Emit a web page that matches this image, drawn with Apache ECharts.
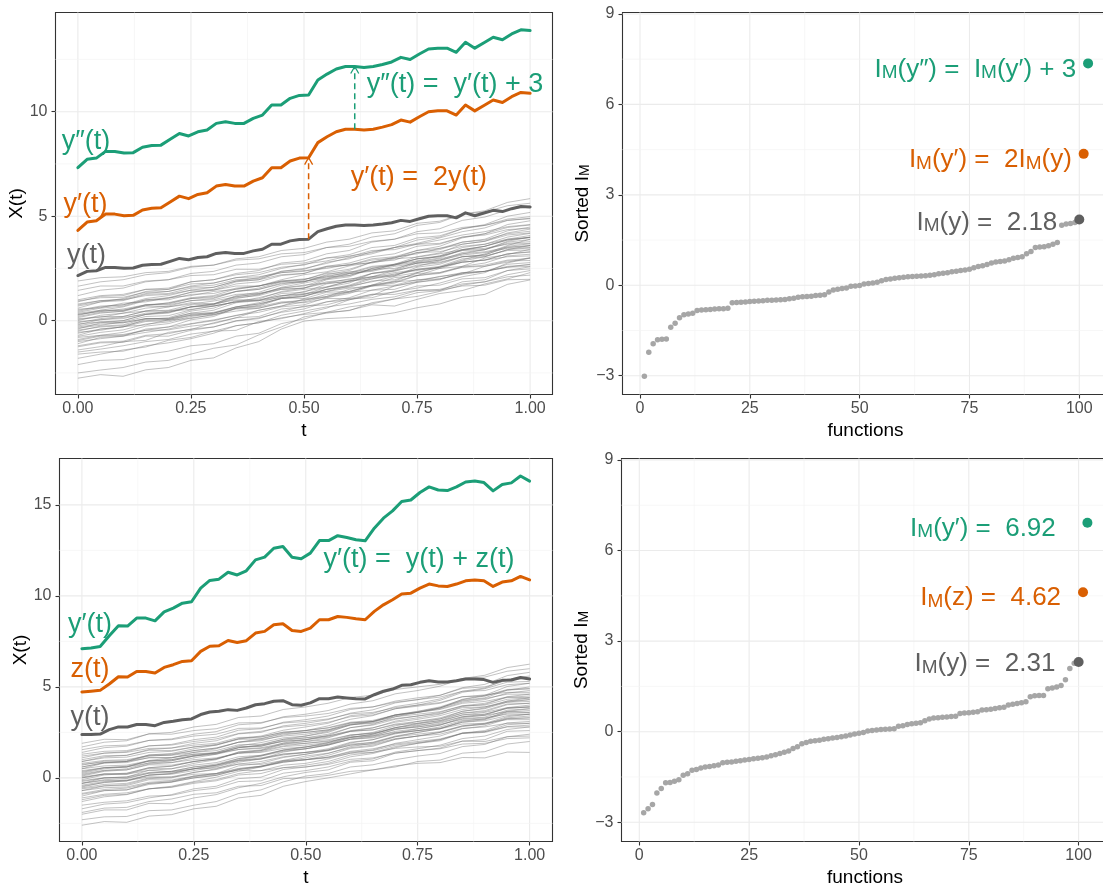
<!DOCTYPE html>
<html>
<head>
<meta charset="utf-8">
<script src="https://cdn.jsdelivr.net/npm/echarts@6/dist/echarts.min.js"></script>
<style>
  html, body { margin: 0; padding: 0; background: #ffffff; }
  #chart { width: 1103px; height: 886px; }
</style>
</head>
<body>
<div id="chart"></div>
<script>
// ---------- data ----------
// time grid of the highlighted functions
const tGrid = [0,0.0204,0.0408,0.0612,0.0816,0.102,0.1224,0.1429,0.1633,0.1837,0.2041,0.2245,0.2449,0.2653,0.2857,0.3061,0.3265,0.3469,0.3673,0.3878,0.4082,0.4286,0.449,0.4694,0.4898,0.5102,0.5306,0.551,0.5714,0.5918,0.6122,0.6327,0.6531,0.6735,0.6939,0.7143,0.7347,0.7551,0.7755,0.7959,0.8163,0.8367,0.8571,0.8776,0.898,0.9184,0.9388,0.9592,0.9796,1];

// top row: y(t); y'(t) = 2y(t); y''(t) = y'(t) + 3
const yTop = [2.16,2.36,2.39,2.55,2.55,2.51,2.52,2.65,2.69,2.70,2.84,2.98,2.92,3.02,3.06,3.22,3.26,3.22,3.22,3.34,3.42,3.66,3.66,3.82,3.89,3.90,4.26,4.40,4.52,4.58,4.58,4.56,4.58,4.63,4.69,4.80,4.75,4.88,5.00,5.02,5.02,4.92,5.16,5.02,5.15,5.28,5.22,5.36,5.46,5.44];

// bottom row: y(t), z(t); y'(t) = y(t) + z(t)
const yBot = [2.38,2.38,2.41,2.65,2.80,2.80,2.93,2.93,2.87,3.05,3.11,3.20,3.24,3.48,3.62,3.66,3.75,3.71,3.84,4.02,4.08,4.21,4.24,4.02,3.99,4.12,4.35,4.35,4.44,4.39,4.35,4.34,4.57,4.76,4.88,5.09,5.12,5.25,5.34,5.27,5.27,5.34,5.43,5.43,5.40,5.25,5.36,5.38,5.52,5.43];
const zBot = [4.72,4.76,4.81,5.16,5.56,5.54,5.85,5.85,5.76,6.07,6.22,6.40,6.44,6.95,7.23,7.26,7.55,7.44,7.54,7.96,8.05,8.41,8.47,8.10,8.05,8.23,8.69,8.69,8.87,8.82,8.74,8.69,9.15,9.51,9.79,10.10,10.15,10.43,10.65,10.55,10.52,10.65,10.83,10.88,10.83,10.52,10.76,10.83,11.07,10.88];

// time grid of the background sample
const tGray = [0,0.05,0.1,0.15,0.2,0.25,0.3,0.35,0.4,0.45,0.5,0.55,0.6,0.65,0.7,0.75,0.8,0.85,0.9,0.95,1];

// background sample, top row
const grayTop = [
  [-2.75,-2.58,-2.66,-2.35,-2.24,-1.90,-1.78,-1.30,-1.00,-0.40,-0.02,0.10,0.15,0.22,0.38,0.62,0.80,1.12,1.26,1.74,1.95],
  [-2.50,-2.36,-2.24,-1.98,-1.90,-1.60,-1.32,-1.16,-0.68,-0.30,0.18,0.36,0.50,0.76,0.70,1.02,1.30,1.44,1.76,2.00,2.30],
  [-2.10,-1.90,-1.86,-1.62,-1.46,-1.20,-1.10,-0.74,-0.60,-0.14,0.08,0.40,0.48,0.86,1.04,1.34,1.44,1.86,1.96,2.40,2.58],
  [-1.80,-1.60,-1.40,-1.26,-0.94,-0.80,-0.50,-0.46,-0.04,0.10,0.34,0.60,1.00,1.20,1.66,1.88,2.12,2.24,2.60,2.80,3.02],
  [-1.60,-1.50,-1.46,-1.20,-1.06,-0.86,-0.60,-0.24,-0.10,0.26,0.46,0.66,0.80,1.02,1.14,1.44,1.50,1.76,1.86,2.10,2.18],
  [-1.40,-1.24,-1.00,-0.94,-0.56,-0.42,-0.10,0.14,0.50,0.70,1.04,1.16,1.50,1.70,2.06,2.16,2.50,2.60,3.00,3.16,3.42],
  [-1.25,-1.06,-1.04,-0.74,-0.74,-0.46,-0.30,0.00,0.14,0.40,0.56,0.90,1.10,1.46,1.50,1.84,1.96,2.30,2.36,2.70,2.78],
  [-1.10,-0.80,-0.74,-0.40,-0.30,0.04,0.20,0.60,0.74,1.10,1.26,1.60,1.80,2.26,2.44,2.84,3.00,3.40,3.56,3.90,4.08],
  [-1.00,-0.86,-0.74,-0.56,-0.40,-0.16,0.00,0.26,0.40,0.66,0.76,1.10,1.30,1.66,1.80,2.16,2.30,2.60,2.76,3.10,3.18],
  [-0.90,-0.70,-0.56,-0.26,-0.14,0.14,0.26,0.60,0.70,1.06,1.16,1.50,1.70,2.06,2.14,2.56,2.70,3.06,3.14,3.56,3.68],
  [-0.80,-0.70,-0.66,-0.46,-0.44,-0.26,-0.14,0.14,0.20,0.56,0.66,0.90,1.00,1.26,1.36,1.66,1.70,2.00,2.06,2.40,2.48],
  [-0.70,-0.40,-0.30,0.06,0.14,0.46,0.60,0.96,1.04,1.40,1.56,1.96,2.10,2.50,2.70,3.06,3.24,3.66,3.80,4.20,4.38],
  [-0.60,-0.40,-0.30,-0.04,0.00,0.26,0.36,0.66,0.80,1.06,1.16,1.50,1.66,2.00,2.16,2.46,2.60,2.96,3.06,3.40,3.48],
  [-0.50,-0.26,-0.20,0.10,0.10,0.36,0.50,0.86,0.96,1.30,1.36,1.76,1.90,2.26,2.40,2.76,2.90,3.26,3.40,3.76,3.88],
  [-0.40,-0.10,0.00,0.30,0.36,0.66,0.80,1.20,1.36,1.70,1.86,2.20,2.40,2.80,3.00,3.36,3.56,3.96,4.16,4.60,4.78],
  [-0.30,-0.16,-0.10,0.10,0.10,0.36,0.36,0.60,0.66,0.90,0.96,1.26,1.36,1.70,1.86,2.16,2.26,2.56,2.66,2.90,2.98],
  [-0.20,0.06,0.10,0.36,0.40,0.66,0.80,1.16,1.26,1.56,1.66,2.00,2.16,2.50,2.66,2.96,3.10,3.50,3.66,4.00,4.18],
  [-0.10,0.10,0.20,0.46,0.50,0.76,0.80,1.10,1.20,1.50,1.56,1.86,1.96,2.26,2.36,2.66,2.76,3.06,3.16,3.50,3.58],
  [0.00,0.26,0.36,0.60,0.70,0.96,1.06,1.40,1.56,1.86,1.96,2.30,2.46,2.80,2.90,3.26,3.40,3.76,3.90,4.30,4.48],
  [0.05,0.20,0.20,0.46,0.46,0.66,0.70,0.90,0.96,1.20,1.26,1.50,1.60,1.90,1.96,2.26,2.30,2.56,2.60,2.86,2.88],
  [0.15,0.36,0.46,0.76,0.80,1.06,1.10,1.40,1.50,1.80,1.86,2.16,2.26,2.56,2.66,2.96,3.06,3.40,3.56,3.86,3.98],
  [0.25,0.50,0.66,0.96,1.06,1.36,1.50,1.86,1.96,2.36,2.46,2.80,2.96,3.30,3.50,3.86,4.00,4.40,4.60,5.00,5.18],
  [0.30,0.46,0.50,0.76,0.76,0.96,1.00,1.26,1.30,1.50,1.56,1.80,1.86,2.10,2.20,2.46,2.50,2.80,2.90,3.20,3.28],
  [0.40,0.60,0.70,1.00,1.10,1.36,1.46,1.76,1.86,2.16,2.26,2.60,2.76,3.06,3.20,3.56,3.66,4.00,4.16,4.46,4.58],
  [0.50,0.70,0.76,1.00,1.00,1.26,1.30,1.56,1.66,1.90,1.96,2.26,2.30,2.60,2.70,2.96,3.06,3.36,3.40,3.70,3.78],
  [0.60,0.90,1.06,1.40,1.50,1.86,1.96,2.26,2.40,2.76,2.86,3.20,3.36,3.76,3.90,4.26,4.40,4.80,4.96,5.30,5.48],
  [0.70,0.90,0.96,1.26,1.30,1.56,1.60,1.90,1.96,2.20,2.26,2.56,2.66,2.96,3.06,3.36,3.46,3.76,3.86,4.16,4.28],
  [0.80,0.96,1.00,1.20,1.26,1.46,1.46,1.66,1.66,1.86,1.86,2.10,2.16,2.46,2.50,2.76,2.80,3.06,3.10,3.36,3.38],
  [0.90,1.16,1.20,1.50,1.56,1.86,1.96,2.20,2.30,2.56,2.66,3.00,3.16,3.50,3.60,3.96,4.06,4.40,4.56,4.86,4.98],
  [1.00,1.20,1.26,1.50,1.50,1.76,1.80,2.06,2.10,2.30,2.36,2.60,2.66,2.90,3.00,3.26,3.30,3.56,3.66,3.90,3.98],
  [1.20,1.46,1.56,1.86,1.96,2.26,2.36,2.66,2.76,3.06,3.16,3.50,3.66,4.00,4.16,4.56,4.70,5.10,5.26,5.66,5.84],
  [1.45,1.66,1.66,1.90,1.96,2.16,2.20,2.46,2.46,2.70,2.76,3.00,3.06,3.36,3.40,3.66,3.70,4.00,4.10,4.36,4.42],
  [1.65,1.86,1.96,2.20,2.30,2.56,2.66,2.96,3.06,3.36,3.46,3.76,3.90,4.20,4.30,4.66,4.76,5.10,5.20,5.50,5.62],
  [1.90,2.06,2.10,2.30,2.36,2.60,2.66,2.90,2.96,3.20,3.26,3.50,3.56,3.80,3.90,4.16,4.20,4.46,4.56,4.80,4.88],
  [0.35,0.50,0.50,0.70,0.66,0.86,0.80,1.00,0.96,1.10,1.06,1.36,1.40,1.66,1.70,1.96,2.00,2.26,2.36,2.60,2.68],
  [-0.15,-0.06,-0.10,0.10,0.06,0.26,0.30,0.56,0.60,0.86,0.86,1.06,1.06,1.26,1.26,1.46,1.46,1.66,1.70,1.96,1.98],
  [-1.20,-1.02,-0.98,-0.70,-0.62,-0.40,-0.30,-0.02,0.10,0.44,0.70,0.76,1.04,1.10,1.40,1.56,1.80,2.10,2.30,2.76,3.00],
  [-0.35,-0.22,-0.06,0.20,0.24,0.52,0.70,0.90,1.10,1.36,1.50,1.62,1.90,2.00,2.24,2.40,2.56,2.80,2.90,3.20,3.30],
  [0.20,0.40,0.44,0.72,0.86,1.10,1.20,1.52,1.66,1.96,2.20,2.34,2.62,2.80,3.04,3.20,3.46,3.66,3.80,4.10,4.20],
  [-0.55,-0.46,-0.28,-0.20,0.04,0.10,0.30,0.46,0.60,0.84,1.00,1.12,1.36,1.46,1.66,1.84,2.00,2.22,2.36,2.56,2.70],
  [0.55,0.62,0.84,0.90,1.10,1.20,1.40,1.50,1.66,1.90,2.00,2.10,2.34,2.42,2.66,2.80,2.96,3.20,3.30,3.52,3.60],
  [-0.95,-0.74,-0.70,-0.46,-0.30,-0.14,0.04,0.24,0.50,0.70,0.90,1.16,1.40,1.70,1.90,2.30,2.56,2.90,3.20,3.60,3.90],
  [0.10,0.16,0.36,0.46,0.66,0.80,0.94,1.14,1.30,1.56,1.70,1.80,2.00,2.10,2.30,2.44,2.56,2.80,2.90,3.06,3.10],
  [-0.25,-0.06,0.00,0.30,0.40,0.66,0.76,1.06,1.24,1.60,1.80,2.00,2.24,2.40,2.70,2.86,3.10,3.36,3.56,3.86,4.00],
  [0.95,1.10,1.12,1.36,1.40,1.62,1.70,1.96,2.02,2.30,2.40,2.50,2.70,2.76,2.96,3.04,3.20,3.40,3.46,3.66,3.70],
  [-1.50,-1.36,-1.20,-1.00,-0.90,-0.64,-0.50,-0.24,-0.10,0.14,0.30,0.40,0.66,0.80,1.04,1.16,1.40,1.70,1.86,2.20,2.40],
  [0.45,0.66,0.76,1.06,1.20,1.46,1.60,1.90,2.06,2.36,2.50,2.74,3.02,3.20,3.50,3.70,3.96,4.26,4.44,4.80,4.90],
  [-0.05,0.04,0.16,0.30,0.46,0.54,0.70,0.90,1.00,1.20,1.30,1.40,1.56,1.66,1.86,1.94,2.10,2.30,2.36,2.56,2.60],
  [0.75,0.96,1.02,1.30,1.40,1.66,1.80,2.06,2.20,2.50,2.70,2.86,3.10,3.26,3.50,3.66,3.86,4.10,4.26,4.50,4.60],
  [-0.45,-0.30,-0.24,0.00,0.06,0.30,0.40,0.66,0.80,1.06,1.20,1.40,1.66,1.86,2.12,2.30,2.56,2.86,3.06,3.40,3.60],
  [0.30,0.44,0.56,0.76,0.84,1.06,1.16,1.40,1.50,1.76,1.90,2.04,2.26,2.36,2.60,2.74,2.90,3.14,3.26,3.46,3.50],
  [-0.75,-0.56,-0.44,-0.16,-0.06,0.20,0.36,0.66,0.86,1.16,1.40,1.60,1.90,2.10,2.40,2.60,2.86,3.20,3.40,3.80,4.00]
];

// background sample, bottom row
const grayBot = [
  [-2.60,-2.40,-2.44,-2.10,-2.02,-1.70,-1.56,-1.10,-0.96,-0.46,-0.20,0.00,0.22,0.44,0.60,0.90,0.98,1.36,1.44,1.86,2.00],
  [-2.30,-2.14,-2.12,-1.80,-1.76,-1.50,-1.30,-0.86,-0.66,-0.22,0.10,0.24,0.60,0.72,1.00,1.20,1.34,1.72,1.84,2.26,2.40],
  [-2.00,-1.76,-1.76,-1.40,-1.42,-1.10,-0.92,-0.54,-0.30,0.06,0.30,0.44,0.86,0.94,1.36,1.50,1.64,2.02,2.10,2.56,2.60],
  [-1.90,-1.66,-1.62,-1.30,-1.16,-0.90,-0.82,-0.46,-0.42,-0.04,0.00,0.14,0.36,0.44,0.66,0.80,0.84,1.12,1.10,1.42,1.40],
  [-1.70,-1.44,-1.36,-1.10,-0.92,-0.60,-0.46,-0.04,0.04,0.46,0.60,0.80,1.16,1.34,1.66,1.90,2.04,2.46,2.60,3.02,3.10],
  [-1.50,-1.34,-1.26,-1.00,-0.96,-0.70,-0.56,-0.20,-0.16,0.26,0.40,0.60,0.92,1.04,1.42,1.60,1.80,2.16,2.30,2.66,2.80],
  [-1.30,-1.04,-0.92,-0.60,-0.46,-0.20,0.04,0.36,0.60,0.92,1.10,1.34,1.72,1.90,2.26,2.50,2.70,3.12,3.24,3.66,3.80],
  [-1.10,-0.90,-0.82,-0.60,-0.52,-0.30,-0.16,0.16,0.24,0.56,0.70,0.90,1.26,1.40,1.72,1.90,2.10,2.46,2.54,2.92,3.00],
  [-1.00,-0.70,-0.66,-0.30,-0.22,0.10,0.24,0.66,0.80,1.12,1.30,1.54,1.92,2.10,2.46,2.70,2.90,3.32,3.44,3.86,4.00],
  [-0.85,-0.64,-0.56,-0.30,-0.22,0.00,0.14,0.46,0.60,0.86,1.00,1.24,1.62,1.74,2.12,2.30,2.50,2.86,3.00,3.36,3.50],
  [-0.70,-0.44,-0.36,-0.04,0.00,0.30,0.50,0.86,1.04,1.42,1.60,1.84,2.22,2.40,2.76,3.00,3.24,3.66,3.84,4.22,4.40],
  [-0.60,-0.44,-0.42,-0.10,-0.12,0.10,0.24,0.52,0.64,0.86,1.00,1.14,1.46,1.60,1.86,2.00,2.14,2.46,2.54,2.82,2.90],
  [-0.50,-0.24,-0.16,0.16,0.24,0.50,0.70,1.06,1.20,1.52,1.70,1.94,2.32,2.50,2.86,3.10,3.30,3.66,3.80,4.16,4.30],
  [-0.40,-0.20,-0.12,0.16,0.20,0.40,0.60,0.92,1.04,1.26,1.40,1.60,1.96,2.10,2.42,2.60,2.80,3.16,3.24,3.62,3.70],
  [-0.30,0.00,0.04,0.42,0.50,0.80,1.00,1.42,1.54,1.92,2.10,2.34,2.76,2.94,3.36,3.60,3.84,4.26,4.40,4.82,5.00],
  [-0.20,0.00,0.00,0.26,0.30,0.50,0.64,0.96,1.04,1.32,1.40,1.54,1.86,1.94,2.26,2.40,2.54,2.86,2.94,3.26,3.30],
  [-0.10,0.16,0.24,0.56,0.64,0.90,1.04,1.42,1.50,1.86,2.00,2.20,2.56,2.74,3.12,3.30,3.50,3.92,4.04,4.46,4.60],
  [0.00,0.22,0.20,0.52,0.50,0.70,0.84,1.16,1.24,1.52,1.60,1.80,2.12,2.24,2.56,2.70,2.90,3.26,3.34,3.72,3.80],
  [0.10,0.36,0.44,0.76,0.84,1.10,1.30,1.66,1.80,2.12,2.30,2.50,2.92,3.04,3.42,3.60,3.84,4.32,4.54,5.02,5.20],
  [0.20,0.42,0.44,0.72,0.70,0.90,1.04,1.36,1.44,1.72,1.80,1.94,2.26,2.34,2.66,2.80,3.00,3.36,3.50,3.82,3.90],
  [0.30,0.56,0.60,0.92,0.94,1.20,1.34,1.66,1.74,2.06,2.20,2.40,2.76,2.90,3.22,3.40,3.60,3.96,4.10,4.42,4.50],
  [0.40,0.56,0.60,0.82,0.84,1.00,1.10,1.36,1.40,1.62,1.70,1.84,2.12,2.20,2.46,2.60,2.74,3.06,3.14,3.42,3.50],
  [0.50,0.82,0.90,1.26,1.34,1.60,1.80,2.16,2.30,2.62,2.80,3.00,3.42,3.54,3.92,4.10,4.34,4.76,4.94,5.42,5.60],
  [0.60,0.82,0.84,1.12,1.10,1.30,1.40,1.72,1.74,2.02,2.10,2.24,2.56,2.64,2.96,3.10,3.24,3.56,3.64,4.02,4.10],
  [0.70,0.92,0.94,1.26,1.30,1.50,1.64,1.96,2.04,2.36,2.50,2.64,3.02,3.10,3.46,3.60,3.80,4.16,4.30,4.66,4.80],
  [0.80,0.96,1.00,1.22,1.24,1.40,1.50,1.82,1.84,2.12,2.20,2.30,2.56,2.64,2.92,3.00,3.14,3.46,3.50,3.82,3.90],
  [0.90,1.16,1.24,1.56,1.64,1.90,2.04,2.42,2.50,2.86,3.00,3.20,3.56,3.74,4.12,4.30,4.54,4.96,5.14,5.62,5.80],
  [1.00,1.22,1.24,1.52,1.50,1.70,1.80,2.12,2.14,2.42,2.50,2.64,2.92,3.00,3.26,3.40,3.54,3.86,3.90,4.22,4.30],
  [1.10,1.36,1.44,1.76,1.84,2.10,2.24,2.62,2.70,3.06,3.20,3.40,3.76,3.90,4.22,4.40,4.54,4.92,5.00,5.36,5.50],
  [1.20,1.36,1.40,1.62,1.64,1.80,1.90,2.22,2.24,2.52,2.60,2.74,3.02,3.10,3.36,3.50,3.64,3.96,4.00,4.32,4.40],
  [1.40,1.66,1.74,2.06,2.14,2.40,2.54,2.92,3.00,3.36,3.50,3.70,4.06,4.24,4.62,4.80,5.04,5.46,5.64,6.06,6.25],
  [1.55,1.76,1.80,2.06,2.10,2.30,2.40,2.72,2.74,3.02,3.10,3.24,3.52,3.60,3.86,4.00,4.14,4.46,4.50,4.82,4.90],
  [1.70,1.96,2.04,2.42,2.50,2.80,2.94,3.32,3.40,3.76,3.90,4.10,4.42,4.54,4.86,5.00,5.14,5.46,5.54,5.86,6.00],
  [1.90,2.12,2.10,2.42,2.40,2.60,2.70,3.02,3.04,3.32,3.40,3.54,3.82,3.90,4.16,4.30,4.44,4.76,4.80,5.12,5.20],
  [0.05,0.22,0.20,0.42,0.34,0.50,0.54,0.76,0.74,0.96,1.00,1.10,1.36,1.40,1.62,1.70,1.74,2.02,2.00,2.26,2.30],
  [-0.30,-0.14,-0.16,0.06,0.04,0.20,0.24,0.42,0.40,0.56,0.60,0.74,1.02,1.10,1.36,1.50,1.60,1.86,1.90,2.16,2.20],
  [-0.90,-0.70,-0.66,-0.36,-0.24,0.00,0.14,0.46,0.64,0.96,1.20,1.36,1.66,1.80,2.12,2.30,2.50,2.82,2.96,3.30,3.40],
  [0.35,0.56,0.64,0.92,1.00,1.24,1.36,1.66,1.80,2.00,2.10,2.30,2.60,2.76,3.06,3.22,3.42,3.76,3.90,4.16,4.20],
  [-0.45,-0.26,-0.16,0.14,0.24,0.50,0.70,1.00,1.20,1.46,1.60,1.80,2.14,2.30,2.66,2.86,3.10,3.46,3.60,3.86,3.90],
  [0.60,0.84,0.90,1.20,1.26,1.50,1.64,1.96,2.10,2.30,2.40,2.60,2.96,3.10,3.46,3.64,3.86,4.22,4.36,4.60,4.60],
  [0.00,0.20,0.26,0.56,0.64,0.90,1.06,1.36,1.50,1.76,1.90,2.04,2.36,2.46,2.76,2.90,3.06,3.36,3.44,3.64,3.60],
  [-0.70,-0.54,-0.50,-0.24,-0.16,0.06,0.20,0.50,0.64,0.90,1.00,1.14,1.42,1.50,1.80,1.94,2.10,2.44,2.50,2.80,2.80],
  [0.90,1.10,1.14,1.40,1.46,1.70,1.84,2.14,2.26,2.50,2.60,2.76,3.06,3.16,3.46,3.60,3.76,4.10,4.20,4.44,4.40],
  [0.15,0.40,0.50,0.82,0.94,1.20,1.40,1.76,1.94,2.20,2.30,2.56,2.90,3.10,3.46,3.66,3.90,4.30,4.50,4.86,4.90],
  [-0.15,0.00,0.06,0.30,0.36,0.60,0.70,0.96,1.10,1.30,1.40,1.50,1.80,1.86,2.16,2.30,2.40,2.72,2.80,3.00,3.00],
  [0.50,0.66,0.70,0.94,1.00,1.20,1.30,1.56,1.66,1.90,2.00,2.10,2.36,2.44,2.70,2.80,2.94,3.22,3.30,3.50,3.50],
  [-1.20,-0.96,-0.90,-0.60,-0.50,-0.24,-0.10,0.24,0.40,0.70,0.80,1.04,1.36,1.54,1.90,2.10,2.30,2.70,2.86,3.24,3.30],
  [0.25,0.50,0.60,0.96,1.10,1.40,1.60,1.96,2.16,2.46,2.60,2.86,3.22,3.42,3.80,4.00,4.26,4.70,4.90,5.26,5.30],
  [0.75,0.86,0.90,1.10,1.12,1.30,1.36,1.56,1.62,1.84,1.90,2.00,2.22,2.30,2.50,2.60,2.70,2.96,3.00,3.20,3.20],
  [-0.55,-0.36,-0.30,0.00,0.06,0.30,0.46,0.76,0.90,1.16,1.30,1.50,1.80,1.96,2.30,2.50,2.70,3.06,3.20,3.56,3.60],
  [1.30,1.46,1.50,1.76,1.80,2.00,2.14,2.44,2.56,2.80,2.90,3.06,3.36,3.46,3.80,3.94,4.10,4.46,4.56,4.70,4.70],
  [-0.30,-0.10,-0.04,0.26,0.36,0.60,0.76,1.06,1.24,1.54,1.70,1.90,2.22,2.40,2.76,2.96,3.16,3.56,3.70,4.06,4.10]
];

// sorted I_M of the background sample (top row), and I_M(y)
const imTop = [-3.02,-2.22,-1.94,-1.81,-1.79,-1.78,-1.39,-1.26,-1.08,-0.98,
  -0.95,-0.93,-0.84,-0.82,-0.81,-0.80,-0.79,-0.78,-0.78,-0.76,
  -0.58,-0.57,-0.56,-0.55,-0.54,-0.53,-0.52,-0.51,-0.50,-0.50,
  -0.49,-0.48,-0.47,-0.45,-0.43,-0.40,-0.38,-0.37,-0.36,-0.34,
  -0.33,-0.31,-0.22,-0.16,-0.13,-0.11,-0.09,-0.03,-0.02,-0.01,
  0.04,0.06,0.08,0.10,0.15,0.19,0.21,0.23,0.25,0.27,
  0.28,0.29,0.30,0.31,0.32,0.33,0.35,0.38,0.40,0.42,
  0.45,0.47,0.49,0.51,0.53,0.58,0.62,0.65,0.69,0.74,
  0.77,0.79,0.81,0.85,0.90,0.92,0.95,1.05,1.12,1.25,
  1.27,1.28,1.31,1.36,1.42,1.99,2.03,2.05,2.08];
const imTopY = 2.18;

// sorted I_M of the background sample (bottom row) and the highlighted values
const imBot = [-2.68,-2.55,-2.41,-2.03,-1.88,-1.69,-1.68,-1.64,-1.59,-1.44,
  -1.39,-1.28,-1.25,-1.20,-1.17,-1.15,-1.13,-1.10,-1.03,-1.01,
  -1.00,-0.98,-0.96,-0.94,-0.92,-0.90,-0.88,-0.86,-0.84,-0.80,
  -0.76,-0.72,-0.68,-0.64,-0.56,-0.50,-0.40,-0.36,-0.32,-0.30,
  -0.28,-0.25,-0.23,-0.21,-0.19,-0.17,-0.14,-0.11,-0.08,-0.05,
  -0.03,0.02,0.04,0.06,0.07,0.08,0.09,0.10,0.18,0.20,
  0.24,0.26,0.28,0.30,0.36,0.42,0.45,0.46,0.48,0.49,
  0.50,0.51,0.60,0.62,0.63,0.64,0.66,0.72,0.73,0.74,
  0.77,0.79,0.81,0.88,0.91,0.93,0.96,0.99,1.16,1.19,
  1.20,1.20,1.42,1.45,1.48,1.53,1.72,2.09,2.27];
const imBotY = 2.31;
const imBotZ = 4.62;
const imBotYp = 6.92;

// function index used for the highlighted points: y, y' (or z), y'' (or y')
const hlIndex = [100, 101, 102];

// axis breaks
const tTicks = [0, 0.25, 0.5, 0.75, 1];
const tTickLabels = ['0.00', '0.25', '0.50', '0.75', '1.00'];
const tMinor = [0.125, 0.375, 0.625, 0.875];
const xTopTicks = [0, 5, 10];
const xTopTickLabels = ['0', '5', '10'];
const xTopMinor = [-2.5, 2.5, 7.5, 12.5];
const xBotTicks = [0, 5, 10, 15];
const xBotTickLabels = ['0', '5', '10', '15'];
const xBotMinor = [-2.5, 2.5, 7.5, 12.5];
const fTicks = [0, 25, 50, 75, 100];
const fTickLabels = ['0', '25', '50', '75', '100'];
const fMinor = [12.5, 37.5, 62.5, 87.5];
const imTicks = [-3, 0, 3, 6, 9];
const imTickLabels = ['\u22123', '0', '3', '6', '9'];
const imMinor = [-1.5, 1.5, 4.5, 7.5];

// ---------- derived series ----------
const yPrimeTop = yTop.map(v => 2 * v);          // y'(t) = 2 y(t)
const yDPrimeTop = yPrimeTop.map(v => v + 3);     // y''(t) = y'(t) + 3
const ySumBot = yBot.map((v, i) => v + zBot[i]);  // y'(t) = y(t) + z(t)
const imTopYp = 2 * imTopY;                       // I_M(y') = 2 I_M(y)
const imTopYpp = imTopYp + 3;                     // I_M(y'') = I_M(y') + 3

// ---------- style ----------
const GREEN = '#1B9E77';
const ORANGE = '#D95F02';
const DARK = '#5f5f5f';
const FONT = '"Liberation Sans", Arimo, "DejaVu Sans", sans-serif';
const TICK_COLOR = '#4D4D4D';

function xAxisCfg(gi, min, max, ticks, labels, name) {
  return {
    type: 'value', gridIndex: gi, min: min, max: max,
    name: name, nameLocation: 'middle', nameGap: 27,
    nameTextStyle: { fontSize: 19, color: '#000', fontFamily: FONT },
    axisLine: { show: false, onZero: false },
    splitLine: { show: false },
    axisTick: { show: true, inside: false, length: 4, customValues: ticks, lineStyle: { color: '#333', width: 1.1 } },
    axisLabel: { customValues: ticks, formatter: v => labels[ticks.indexOf(v)], fontSize: 16, color: TICK_COLOR, fontFamily: FONT, margin: 6 }
  };
}
function yAxisCfg(gi, min, max, ticks, labels, name, gap, rich) {
  return {
    type: 'value', gridIndex: gi, min: min, max: max,
    name: name, nameLocation: 'middle', nameGap: gap,
    nameTextStyle: { fontSize: 19, color: '#000', fontFamily: FONT, rich: rich },
    axisLine: { show: false, onZero: false },
    splitLine: { show: false },
    axisTick: { show: true, inside: false, length: 4, customValues: ticks, lineStyle: { color: '#333', width: 1.1 } },
    axisLabel: { customValues: ticks, formatter: v => labels[ticks.indexOf(v)], fontSize: 16, color: TICK_COLOR, fontFamily: FONT, margin: 8 }
  };
}

// background grid lines (major and minor) of one panel
function gridSeries(ai, xMaj, xMin, yMaj, yMin) {
  const data = [];
  xMaj.forEach(v => data.push([v, 0, 1]));
  xMin.forEach(v => data.push([v, 0, 0]));
  yMaj.forEach(v => data.push([v, 1, 1]));
  yMin.forEach(v => data.push([v, 1, 0]));
  return {
    type: 'custom', xAxisIndex: ai, yAxisIndex: ai, z: 1, silent: true, data: data,
    renderItem: function (params, api) {
      const v = api.value(0), dir = api.value(1), major = api.value(2);
      const cs = params.coordSys;
      const p = api.coord([v, v]);
      const shape = dir === 0
        ? { x1: p[0], y1: cs.y, x2: p[0], y2: cs.y + cs.height }
        : { x1: cs.x, y1: p[1], x2: cs.x + cs.width, y2: p[1] };
      return { type: 'line', shape: shape, style: { stroke: major ? '#EBEBEB' : '#F3F3F3', lineWidth: major ? 1.1 : 0.7 } };
    }
  };
}

function grayLines(ai, lines) {
  return lines.map(arr => ({
    type: 'line', xAxisIndex: ai, yAxisIndex: ai, z: 2, silent: true,
    symbol: 'none', showSymbol: false,
    data: tGray.map((t, i) => [t, arr[i]]),
    lineStyle: { color: 'rgba(112,112,112,0.5)', width: 0.85 }
  }));
}

function mainLine(ai, values, color, z) {
  return {
    type: 'line', xAxisIndex: ai, yAxisIndex: ai, z: z, silent: true,
    symbol: 'none', showSymbol: false,
    data: tGrid.map((t, i) => [t, values[i]]),
    lineStyle: { color: color, width: 3, join: 'round', cap: 'round' }
  };
}

// dashed vertical arrow from (t, lo) up to (t, hi)
function arrowSeries(ai, t, lo, hi, color) {
  return {
    type: 'custom', xAxisIndex: ai, yAxisIndex: ai, z: 5, silent: true,
    data: [[t, lo, hi]],
    renderItem: function (params, api) {
      const a = api.coord([api.value(0), api.value(1)]);
      const b = api.coord([api.value(0), api.value(2)]);
      return {
        type: 'group', children: [
          { type: 'line', shape: { x1: a[0], y1: a[1], x2: b[0], y2: b[1] + 1 },
            style: { stroke: color, lineWidth: 1.5, lineDash: [6, 4] } },
          { type: 'polyline', shape: { points: [[b[0] - 4, b[1] + 7], [b[0], b[1]], [b[0] + 4, b[1] + 7]] },
            style: { stroke: color, fill: null, lineWidth: 1.3 } }
        ]
      };
    }
  };
}

// main text with a lowered, smaller subscript
function richStyle(color, main, sub) {
  return {
    n: { fontSize: main, lineHeight: 38, verticalAlign: 'bottom', fill: color, fontFamily: FONT },
    s: { fontSize: sub, lineHeight: sub, verticalAlign: 'bottom', fill: color, fontFamily: FONT }
  };
}

// text annotations placed in data coordinates
function textSeries(ai, items) {
  return {
    type: 'custom', xAxisIndex: ai, yAxisIndex: ai, z: 6, silent: true, clip: false,
    data: items.map(d => [d.x, d.y]),
    renderItem: function (params, api) {
      const d = items[params.dataIndex];
      const p = api.coord([api.value(0), api.value(1)]);
      const style = {
        text: d.text, fill: d.color, fontSize: d.size, fontFamily: FONT,
        align: d.align || 'center', verticalAlign: 'middle'
      };
      if (d.rich) style.rich = richStyle(d.color, d.size, 19);
      return { type: 'text', x: p[0], y: p[1], style: style };
    }
  };
}

function pointSeries(ai, data, color, size, z) {
  return {
    type: 'scatter', xAxisIndex: ai, yAxisIndex: ai, z: z, silent: true,
    symbol: 'circle', symbolSize: size, data: data,
    itemStyle: { color: color, opacity: 1 }
  };
}

// ---------- option ----------
const series = [];

// panel 0: top-left curves
series.push(gridSeries(0, tTicks, tMinor, xTopTicks, xTopMinor));
series.push(...grayLines(0, grayTop));
series.push(mainLine(0, yTop, DARK, 3));
series.push(mainLine(0, yPrimeTop, ORANGE, 3));
series.push(mainLine(0, yDPrimeTop, GREEN, 3));
series.push(arrowSeries(0, tGrid[25], yTop[25], yPrimeTop[25], ORANGE));
series.push(arrowSeries(0, tGrid[30], yPrimeTop[30], yDPrimeTop[30], GREEN));
series.push(textSeries(0, [
  { x: 0.018, y: 8.56, text: 'y\u2033(t)', color: GREEN, size: 27 },
  { x: 0.017, y: 5.54, text: 'y\u2032(t)', color: ORANGE, size: 27 },
  { x: 0.019, y: 3.14, text: 'y(t)', color: DARK, size: 27 },
  { x: 0.834, y: 11.28, text: 'y\u2033(t) =  y\u2032(t) + 3', color: GREEN, size: 27 },
  { x: 0.754, y: 6.83, text: 'y\u2032(t) =  2y(t)', color: ORANGE, size: 27 }
]));

// panel 1: top-right sorted indices
series.push(gridSeries(1, fTicks, fMinor, imTicks, imMinor));
series.push(pointSeries(1, imTop.map((v, i) => [i + 1, v]), '#A6A6A6', 5.5, 3));
series.push(pointSeries(1, [[hlIndex[0], imTopY]], DARK, 10, 4));
series.push(pointSeries(1, [[hlIndex[1], imTopYp]], ORANGE, 10, 4));
series.push(pointSeries(1, [[hlIndex[2], imTopYpp]], GREEN, 10, 4));
series.push(textSeries(1, [
  { x: 99.3, y: imTopYpp, text: '{n|I}{s|M}{n|(y\u2033) =  I}{s|M}{n|(y\u2032) + 3}', color: GREEN, size: 26, rich: true, align: 'right' },
  { x: 98.3, y: imTopYp, text: '{n|I}{s|M}{n|(y\u2032) =  2I}{s|M}{n|(y)}', color: ORANGE, size: 26, rich: true, align: 'right' },
  { x: 95.0, y: imTopY + 0.1, text: '{n|I}{s|M}{n|(y) =  ' + imTopY.toFixed(2) + '}', color: DARK, size: 26, rich: true, align: 'right' }
]));

// panel 2: bottom-left curves
series.push(gridSeries(2, tTicks, tMinor, xBotTicks, xBotMinor));
series.push(...grayLines(2, grayBot));
series.push(mainLine(2, yBot, DARK, 3));
series.push(mainLine(2, zBot, ORANGE, 3));
series.push(mainLine(2, ySumBot, GREEN, 3));
series.push(textSeries(2, [
  { x: 0.018, y: 8.40, text: 'y\u2032(t)', color: GREEN, size: 27 },
  { x: 0.018, y: 5.96, text: 'z(t)', color: ORANGE, size: 27 },
  { x: 0.018, y: 3.32, text: 'y(t)', color: DARK, size: 27 },
  { x: 0.753, y: 12.02, text: 'y\u2032(t) =  y(t) + z(t)', color: GREEN, size: 27 }
]));

// panel 3: bottom-right sorted indices
series.push(gridSeries(3, fTicks, fMinor, imTicks, imMinor));
series.push(pointSeries(3, imBot.map((v, i) => [i + 1, v]), '#A6A6A6', 5.5, 3));
series.push(pointSeries(3, [[hlIndex[0], imBotY]], DARK, 10, 4));
series.push(pointSeries(3, [[hlIndex[1], imBotZ]], ORANGE, 10, 4));
series.push(pointSeries(3, [[hlIndex[2], imBotYp]], GREEN, 10, 4));
series.push(textSeries(3, [
  { x: 94.8, y: imBotYp, text: '{n|I}{s|M}{n|(y\u2032) =  ' + imBotYp.toFixed(2) + '}', color: GREEN, size: 26, rich: true, align: 'right' },
  { x: 96.0, y: imBotZ, text: '{n|I}{s|M}{n|(z) =  ' + imBotZ.toFixed(2) + '}', color: ORANGE, size: 26, rich: true, align: 'right' },
  { x: 94.7, y: imBotY + 0.12, text: '{n|I}{s|M}{n|(y) =  ' + imBotY.toFixed(2) + '}', color: DARK, size: 26, rich: true, align: 'right' }
]));

const frame = { show: true, borderColor: '#333333', borderWidth: 1.1, backgroundColor: '#ffffff', outerBoundsMode: 'none', containLabel: false };
const sortedRich = {
  n: { fontSize: 19, lineHeight: 28, verticalAlign: 'bottom', color: '#000', fontFamily: FONT },
  s: { fontSize: 14, lineHeight: 14, verticalAlign: 'bottom', color: '#000', fontFamily: FONT }
};

const option = {
  animation: false,
  backgroundColor: '#ffffff',
  textStyle: { fontFamily: FONT },
  grid: [
    Object.assign({ left: 55.5, top: 12.5, width: 497, height: 382 }, frame),
    Object.assign({ left: 622.5, top: 12.5, width: 486, height: 382 }, frame),
    Object.assign({ left: 59.5, top: 458.5, width: 493, height: 383 }, frame),
    Object.assign({ left: 621.5, top: 458.5, width: 487, height: 383 }, frame)
  ],
  xAxis: [
    xAxisCfg(0, -0.0495, 1.0495, tTicks, tTickLabels, 't'),
    xAxisCfg(1, -3.98, 106.65, fTicks, fTickLabels, 'functions'),
    xAxisCfg(2, -0.05, 1.0511, tTicks, tTickLabels, 't'),
    xAxisCfg(3, -4.05, 106.8, fTicks, fTickLabels, 'functions')
  ],
  yAxis: [
    yAxisCfg(0, -3.531, 14.746, xTopTicks, xTopTickLabels, 'X(t)', 27),
    yAxisCfg(1, -3.622, 9.048, imTicks, imTickLabels, '{n|Sorted I}{s|M}', 30, sortedRich),
    yAxisCfg(2, -3.495, 17.55, xBotTicks, xBotTickLabels, 'X(t)', 27),
    yAxisCfg(3, -3.636, 9.046, imTicks, imTickLabels, '{n|Sorted I}{s|M}', 30, sortedRich)
  ],
  series: series
};

const chart = echarts.init(document.getElementById('chart'), null, { renderer: 'canvas' });
chart.setOption(option);
</script>
</body>
</html>
